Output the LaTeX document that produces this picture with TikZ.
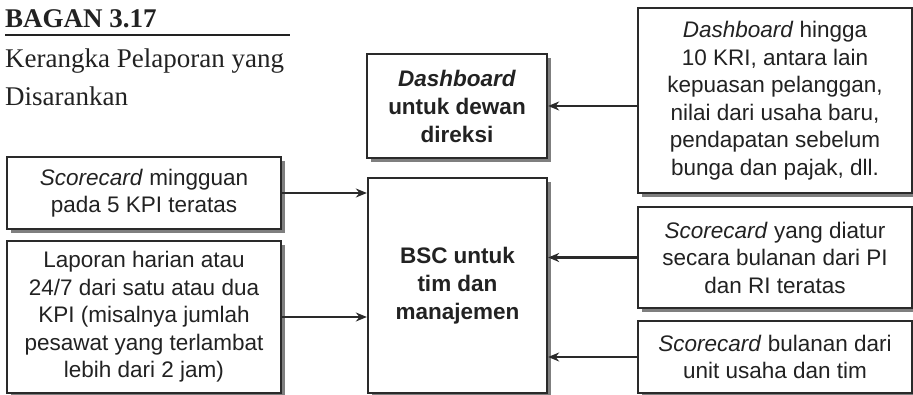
\documentclass[tikz,border=0pt]{standalone}
\usepackage{fontspec}
\setmainfont{Liberation Serif}
\setsansfont{Liberation Sans}
\usetikzlibrary{arrows.meta,shadows}
\definecolor{ink}{HTML}{222222}
\definecolor{edge}{HTML}{2A2A2A}
\tikzset{
  box/.style={draw=edge, line width=2.3pt, fill=white, inner sep=0pt, align=center,
    text=ink, font=\sffamily\fontsize{22.5}{27.5}\selectfont,
    drop shadow={shadow xshift=4pt, shadow yshift=-4pt, fill=black, opacity=0.5}},
  bbox/.style={box, font=\sffamily\bfseries\fontsize{22.5}{28}\selectfont},
  conn/.style={draw=edge, line width=2.3pt, -{Stealth[length=11pt,width=9pt]}}
}
\begin{document}
\begin{tikzpicture}[x=1pt,y=-1pt]
\useasboundingbox (0,0) rectangle (913,395);
% title block
\node[anchor=base west, inner sep=0pt, text=ink, font=\bfseries\fontsize{27}{30}\selectfont] (title) at (5,28) {BAGAN 3.17};
\coordinate (ruleL) at (5,35);
\coordinate (ruleR) at (290,35);
\draw[ink, line width=1.6pt] (ruleL) -- (ruleR);
\node[anchor=base west, inner sep=0pt, text=ink, font=\fontsize{27}{30}\selectfont] (sub1) at (5,68) {Kerangka Pelaporan yang};
\node[anchor=base west, inner sep=0pt, text=ink, font=\fontsize{27}{30}\selectfont] (sub2) at (5,106) {Disarankan};
% boxes
\node[bbox, minimum width=180pt, minimum height=104pt] (dash) at (457,106) {\textit{Dashboard}\\untuk dewan\\direksi};
\node[bbox, minimum width=179pt, minimum height=215pt] (bsc) at (457.5,285.5) {BSC untuk\\tim dan\\manajemen};
\node[box, minimum width=274pt, minimum height=185pt] (topR) at (775,100.5) {\textit{Dashboard} hingga\\10 KRI, antara lain\\kepuasan pelanggan,\\nilai dari usaha baru,\\pendapatan sebelum\\bunga dan pajak, dll.};
\node[box, minimum width=274pt, minimum height=72pt] (L1) at (144,193) {\textit{Scorecard} mingguan\\pada 5 KPI teratas};
\node[box, minimum width=274pt, minimum height=152pt] (L2) at (144,317) {Laporan harian atau\\24/7 dari satu atau dua\\KPI (misalnya jumlah\\pesawat yang terlambat\\lebih dari 2 jam)};
\node[box, minimum width=274pt, minimum height=101pt] (R2) at (775,257.5) {\textit{Scorecard} yang diatur\\secara bulanan dari PI\\dan RI teratas};
\node[box, minimum width=274pt, minimum height=72pt] (R3) at (775,357) {\textit{Scorecard} bulanan dari\\unit usaha dan tim};
% connectors
\draw[conn] (topR.west |- dash.east) -- (dash.east);
\draw[conn] (L1.east) -- (L1.east -| bsc.west);
\draw[conn] (L2.east) -- (L2.east -| bsc.west);
\draw[conn] (R2.west) -- (R2.west -| bsc.east);
\draw[conn] (R3.west) -- (R3.west -| bsc.east);
\end{tikzpicture}
\end{document}
